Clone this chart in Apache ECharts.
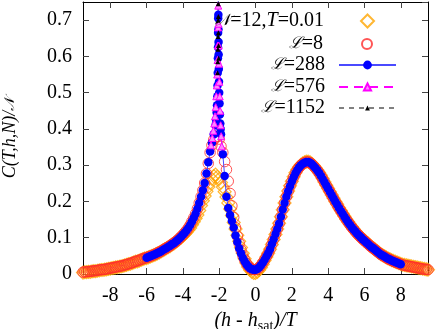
<!DOCTYPE html>
<html>
<head>
<meta charset="utf-8">
<script src="https://cdn.jsdelivr.net/npm/echarts@6/dist/echarts.min.js"></script>
<style>
  html, body { margin: 0; padding: 0; background: #fff; }
  #chart { width: 436px; height: 329px; }
</style>
</head>
<body>
<div id="chart"></div>
<script>
// field grid (h - h_sat)/T, step 0.1, used by the N=12 and L=8 runs
const hGrid = []
for (let i = 0; i <= 190; i++) hGrid.push(+(-9.5 + i * 0.1).toFixed(1))
// grid of the L=288 run
const h288Grid = []
for (let i = 0; i <= 140; i++) h288Grid.push(+(-6.0 + i * 0.1).toFixed(1))

// N=12, T=0.01 (orange diamonds), on hGrid
const cN12 = [
  0.004, 0.005, 0.005, 0.006, 0.006, 0.007, 0.008, 0.008, 0.009, 0.010,
  0.011, 0.011, 0.012, 0.013, 0.014, 0.015, 0.016, 0.017, 0.018, 0.019,
  0.020, 0.021, 0.022, 0.024, 0.025, 0.027, 0.028, 0.030, 0.032, 0.034,
  0.035, 0.037, 0.039, 0.041, 0.043, 0.044, 0.046, 0.048, 0.050, 0.052,
  0.054, 0.057, 0.059, 0.062, 0.065, 0.068, 0.071, 0.074, 0.077, 0.081,
  0.084, 0.088, 0.092, 0.096, 0.100, 0.105, 0.110, 0.115, 0.121, 0.127,
  0.136, 0.144, 0.153, 0.163, 0.175, 0.189, 0.202, 0.215, 0.228, 0.240,
  0.251, 0.262, 0.270, 0.274, 0.268, 0.262, 0.252, 0.240, 0.227, 0.212,
  0.196, 0.179, 0.161, 0.142, 0.124, 0.107, 0.090, 0.073, 0.057, 0.042,
  0.030, 0.019, 0.011, 0.006, 0.003, 0.003, 0.006, 0.011, 0.018, 0.027,
  0.037, 0.047, 0.057, 0.068, 0.081, 0.095, 0.109, 0.124, 0.140, 0.158,
  0.177, 0.196, 0.213, 0.229, 0.243, 0.256, 0.268, 0.279, 0.288, 0.295,
  0.301, 0.305, 0.308, 0.310, 0.310, 0.308, 0.304, 0.299, 0.293, 0.287,
  0.280, 0.272, 0.263, 0.254, 0.245, 0.236, 0.227, 0.218, 0.209, 0.200,
  0.192, 0.183, 0.175, 0.167, 0.159, 0.151, 0.144, 0.137, 0.130, 0.124,
  0.118, 0.112, 0.107, 0.102, 0.097, 0.093, 0.088, 0.084, 0.079, 0.075,
  0.071, 0.067, 0.063, 0.059, 0.055, 0.052, 0.049, 0.046, 0.043, 0.041,
  0.038, 0.036, 0.034, 0.032, 0.030, 0.028, 0.026, 0.025, 0.024, 0.023,
  0.022, 0.021, 0.020, 0.019, 0.018, 0.017, 0.016, 0.015, 0.014, 0.013, 0.012
]

// L=8 (red open circles), on hGrid
const cL8 = [
  0.005, 0.006, 0.006, 0.007, 0.007, 0.008, 0.009, 0.009, 0.010, 0.011,
  0.012, 0.012, 0.013, 0.014, 0.015, 0.016, 0.017, 0.018, 0.019, 0.020,
  0.021, 0.022, 0.023, 0.025, 0.026, 0.028, 0.029, 0.031, 0.033, 0.035,
  0.036, 0.038, 0.040, 0.042, 0.044, 0.045, 0.047, 0.049, 0.051, 0.053,
  0.055, 0.058, 0.060, 0.063, 0.066, 0.069, 0.072, 0.075, 0.078, 0.082,
  0.085, 0.089, 0.093, 0.098, 0.103, 0.108, 0.114, 0.120, 0.127, 0.135,
  0.145, 0.155, 0.166, 0.180, 0.196, 0.213, 0.231, 0.251, 0.277, 0.305,
  0.335, 0.355, 0.370, 0.378, 0.380, 0.372, 0.352, 0.335, 0.310, 0.288,
  0.256, 0.222, 0.188, 0.156, 0.128, 0.104, 0.084, 0.066, 0.051, 0.039,
  0.029, 0.022, 0.017, 0.014, 0.012, 0.012, 0.014, 0.018, 0.024, 0.031,
  0.039, 0.048, 0.057, 0.068, 0.082, 0.096, 0.110, 0.124, 0.139, 0.158,
  0.178, 0.196, 0.213, 0.228, 0.242, 0.255, 0.267, 0.278, 0.287, 0.294,
  0.300, 0.304, 0.307, 0.309, 0.309, 0.307, 0.303, 0.298, 0.292, 0.286,
  0.279, 0.271, 0.262, 0.253, 0.244, 0.235, 0.226, 0.217, 0.208, 0.199,
  0.191, 0.182, 0.174, 0.166, 0.158, 0.150, 0.143, 0.136, 0.129, 0.123,
  0.117, 0.111, 0.106, 0.101, 0.096, 0.092, 0.087, 0.083, 0.078, 0.074,
  0.070, 0.066, 0.062, 0.058, 0.054, 0.051, 0.048, 0.045, 0.042, 0.040,
  0.037, 0.035, 0.033, 0.031, 0.029, 0.027, 0.025, 0.024, 0.023, 0.022,
  0.021, 0.020, 0.019, 0.018, 0.017, 0.016, 0.015, 0.014, 0.013, 0.013, 0.012
]

// L=288 (blue filled circles), on h288Grid
const cL288 = [
  0.045, 0.047, 0.049, 0.051, 0.053, 0.055, 0.058, 0.060, 0.063, 0.066,
  0.069, 0.072, 0.075, 0.078, 0.082, 0.085, 0.089, 0.093, 0.098, 0.103,
  0.108, 0.114, 0.120, 0.127, 0.135, 0.145, 0.155, 0.166, 0.180, 0.196,
  0.213, 0.231, 0.251, 0.277, 0.308, 0.338, 0.362, 0.385, 0.410, 0.490,
  0.500, 0.385, 0.330, 0.270, 0.213, 0.182, 0.163, 0.146, 0.128, 0.106,
  0.088, 0.071, 0.057, 0.045, 0.035, 0.027, 0.021, 0.016, 0.013, 0.012,
  0.012, 0.014, 0.018, 0.024, 0.031, 0.039, 0.048, 0.057, 0.068, 0.082,
  0.096, 0.110, 0.124, 0.139, 0.158, 0.178, 0.196, 0.213, 0.228, 0.242,
  0.255, 0.267, 0.278, 0.287, 0.294, 0.300, 0.304, 0.307, 0.309, 0.309,
  0.307, 0.303, 0.298, 0.292, 0.286, 0.279, 0.271, 0.262, 0.253, 0.244,
  0.235, 0.226, 0.217, 0.208, 0.199, 0.191, 0.182, 0.174, 0.166, 0.158,
  0.150, 0.143, 0.136, 0.129, 0.123, 0.117, 0.111, 0.106, 0.101, 0.096,
  0.092, 0.087, 0.083, 0.078, 0.074, 0.070, 0.066, 0.062, 0.058, 0.054,
  0.051, 0.048, 0.045, 0.042, 0.040, 0.037, 0.035, 0.033, 0.031, 0.029,
  0.027
]
// extra L=288 points close to the critical field
const hPeak288 = [-2.17, -2.14, -2.12, -2.09, -2.08, -2.07, -2.065, -2.06, -2.055, -2.05,
  -2.045, -2.04, -2.035, -2.03, -2.02, -2.01, -1.98, -1.96, -1.94, -1.92]
const cPeak288 = [0.425, 0.445, 0.465, 0.52, 0.555, 0.595, 0.625, 0.665, 0.705, 0.77,
  0.715, 0.675, 0.64, 0.605, 0.565, 0.53, 0.47, 0.44, 0.415, 0.40]

// L=576 (magenta triangles)
const h576 = [-2.45, -2.38, -2.32, -2.27, -2.23, -2.19, -2.16, -2.13, -2.11, -2.09, -2.075,
  -2.06, -2.05, -2.04, -2.025, -2.01, -1.99, -1.97, -1.95, -1.92, -1.89, -1.86]
const c576 = [0.355, 0.375, 0.395, 0.415, 0.435, 0.46, 0.49, 0.52, 0.55, 0.59, 0.63,
  0.68, 0.74, 0.69, 0.63, 0.58, 0.53, 0.49, 0.45, 0.41, 0.38, 0.352]

// L=1152 (black triangles)
const h1152 = [-2.09, -2.08, -2.07, -2.062, -2.056, -2.05, -2.045, -2.04, -2.035, -2.03]
const c1152 = [0.555, 0.585, 0.62, 0.655, 0.7, 0.745, 0.71, 0.665, 0.63, 0.595]

const xTicks = [-8, -6, -4, -2, 0, 2, 4, 6, 8]

function zip(xs, ys) {
  return xs.map((x, i) => [x, ys[i]])
}

const serif = "'Liberation Serif', 'DejaVu Serif', serif"
const scriptFont = "'DejaVu Serif', serif"
const data288 = zip(h288Grid, cL288).concat(zip(hPeak288, cPeak288)).sort((a, b) => a[0] - b[0])

const legendText = {
  N12: '{s|𝒩}=12,{i|T}=0.01',
  L8: '{s|ℒ}=8',
  L288: '{s|ℒ}=288',
  L576: '{s|ℒ}=576',
  L1152: '{s|ℒ}=1152'
}

// one legend block per row, right-aligned like the gnuplot key
function legendFor(name, top, w, h, right, gap) {
  return {
    data: [name],
    right: right,
    top: top,
    align: 'right',
    itemWidth: w,
    itemHeight: h,
    selectedMode: false,
    formatter: n => legendText[n],
    textStyle: {
      fontFamily: serif,
      fontSize: 20,
      color: '#000',
      padding: [0, gap, 0, 0],
      rich: {
        s: { fontFamily: scriptFont, fontStyle: 'italic', fontSize: 16 },
        i: { fontFamily: serif, fontStyle: 'italic', fontSize: 20 }
      }
    }
  }
}

const frameLine = { onZero: false, lineStyle: { color: '#000', width: 1 } }

const chart = echarts.init(document.getElementById('chart'))
chart.setOption({
  animation: false,
  backgroundColor: '#fff',
  grid: { left: 83, right: 8, top: 2, bottom: 55, outerBoundsMode: 'none', containLabel: false },
  legend: [
    legendFor('N12', 6, 13, 13, 56, 32),
    legendFor('L8', 29, 10, 10, 58, 34),
    legendFor('L288', 50, 57, 11, 34, 9),
    legendFor('L576', 72, 57, 9, 34, 9),
    legendFor('L1152', 93, 57, 6, 34, 9)
  ],
  xAxis: [{
    type: 'value',
    min: -9.5,
    max: 9.5,
    name: '{i|(h} - {i|h}{sub|sat}{i|)/T}',
    nameLocation: 'middle',
    nameGap: 31,
    nameTextStyle: {
      fontFamily: serif,
      fontSize: 20,
      color: '#000',
      rich: {
        i: { fontFamily: serif, fontStyle: 'italic', fontSize: 20 },
        sub: { fontFamily: serif, fontSize: 14, padding: [10, 0, 0, 0] }
      }
    },
    axisLine: frameLine,
    axisTick: { inside: true, length: 6, customValues: xTicks, lineStyle: { color: '#444' } },
    axisLabel: { customValues: xTicks, fontFamily: serif, fontSize: 20, color: '#000', margin: 12 },
    splitLine: { show: false }
  }, {
    type: 'value',
    position: 'top',
    min: -9.5,
    max: 9.5,
    axisLine: frameLine,
    axisTick: { inside: true, length: 6, customValues: xTicks, lineStyle: { color: '#444' } },
    axisLabel: { show: false },
    splitLine: { show: false }
  }],
  yAxis: [{
    type: 'value',
    min: 0,
    max: 0.75,
    interval: 0.1,
    name: '{i|C(T,h,N)/}{s|𝒩}',
    nameLocation: 'middle',
    nameRotate: 90,
    nameGap: 64,
    nameTextStyle: {
      color: '#000',
      rich: {
        i: { fontFamily: serif, fontStyle: 'italic', fontSize: 18 },
        s: { fontFamily: scriptFont, fontStyle: 'italic', fontSize: 14 }
      }
    },
    axisLine: frameLine,
    axisTick: { inside: true, length: 6, lineStyle: { color: '#444' } },
    axisLabel: {
      fontFamily: serif, fontSize: 20, color: '#000', margin: 11, showMaxLabel: false,
      formatter: v => (v === 0 ? '0' : v.toFixed(1))
    },
    splitLine: { show: false }
  }, {
    type: 'value',
    position: 'right',
    min: 0,
    max: 0.75,
    interval: 0.1,
    axisLine: frameLine,
    axisTick: { inside: true, length: 6, lineStyle: { color: '#444' } },
    axisLabel: { show: false },
    splitLine: { show: false }
  }],
  series: [{
    name: 'N12',
    type: 'scatter',
    symbol: 'diamond',
    symbolSize: 13,
    itemStyle: { color: 'rgba(0,0,0,0)', borderColor: '#ffa500', borderWidth: 1.2 },
    data: zip(hGrid, cN12)
  }, {
    name: 'L8',
    type: 'scatter',
    symbol: 'circle',
    symbolSize: 10.5,
    itemStyle: { color: 'rgba(0,0,0,0)', borderColor: '#ff2a2a', borderWidth: 1 },
    data: zip(hGrid, cL8)
  }, {
    name: 'L288',
    type: 'line',
    symbol: 'circle',
    symbolSize: 8.5,
    showAllSymbol: true,
    itemStyle: { color: '#0000ff' },
    lineStyle: { color: '#4a4aff', width: 1 },
    data: data288
  }, {
    name: 'L576',
    type: 'line',
    symbol: 'triangle',
    symbolSize: 7,
    showAllSymbol: true,
    itemStyle: { color: '#ff88ff', borderColor: '#ff00ff', borderWidth: 1 },
    lineStyle: { color: '#ff00ff', width: 1, type: [9, 6] },
    data: zip(h576, c576)
  }, {
    name: 'L1152',
    type: 'line',
    symbol: 'triangle',
    symbolSize: 5,
    showAllSymbol: true,
    itemStyle: { color: '#000' },
    lineStyle: { color: '#808080', width: 1, type: [5, 5] },
    data: zip(h1152, c1152)
  }]
})
</script>
</body>
</html>
